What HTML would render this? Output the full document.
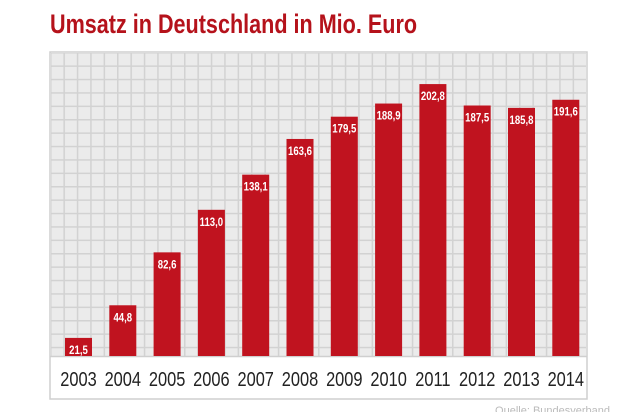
<!DOCTYPE html>
<html><head><meta charset="utf-8"><style>
html,body{margin:0;padding:0;background:#fff;width:630px;height:412px;overflow:hidden}
svg{display:block;font-family:"Liberation Sans",sans-serif}
</style></head><body>
<svg id="c" width="630" height="412">
<defs>
<pattern id="grid" x="50" y="52" width="13.4" height="13.4" patternUnits="userSpaceOnUse">
<rect width="13.4" height="13.4" fill="#ebebeb"/>
<path d="M0 0.75H13.4M0.75 0V13.4" stroke="#d2d2d2" stroke-width="1.5" fill="none"/>
</pattern>
</defs>
<text x="50" y="33" fill="#b5121b" font-size="27" font-weight="bold" transform="translate(50,0) scale(0.8,1) translate(-50,0)">Umsatz in Deutschland in Mio. Euro</text>
<rect x="50" y="52" width="537" height="347" fill="#fff" stroke="#cfcfcf" stroke-width="1.5"/>
<rect x="51" y="53" width="535" height="303" fill="url(#grid)"/>
<line x1="50" y1="356.5" x2="587" y2="356.5" stroke="#cfcfcf" stroke-width="1.5"/>
<g id="bars"></g>
<text x="610" y="414" fill="#bbb" font-size="11" text-anchor="end">Quelle: Bundesverband</text>
</svg>
<script>
const years = ["2003","2004","2005","2006","2007","2008","2009","2010","2011","2012","2013","2014"];
const values = [21.5,44.8,82.6,113.0,138.1,163.6,179.5,188.9,202.8,187.5,185.8,191.6];
const valueLabels = ["21,5","44,8","82,6","113,0","138,1","163,6","179,5","188,9","202,8","187,5","185,8","191,6"];

const NS = "http://www.w3.org/2000/svg";
const baseY = 356;
function yScale(v){ return baseY - Math.max(8, 1.40*v - 12); }
function xScale(i){ return 65 + i*44.3; }
const barW = 27;
const g = document.getElementById("bars");
years.forEach((yr,i)=>{
  const x = xScale(i), y = yScale(values[i]);
  const cx = x+barW/2;
  const r = document.createElementNS(NS,"rect");
  r.setAttribute("x",x); r.setAttribute("y",y);
  r.setAttribute("width",barW); r.setAttribute("height",baseY-y);
  r.setAttribute("fill","#c0131f");
  
  
  g.appendChild(r);
  const t = document.createElementNS(NS,"text");
  t.setAttribute("x",cx); t.setAttribute("y",y+16);
  t.setAttribute("text-anchor","middle"); t.setAttribute("fill","#fff");
  t.setAttribute("font-size","12"); t.setAttribute("font-weight","bold");
  t.setAttribute("transform","translate("+cx+",0) scale(0.8,1) translate("+(-cx)+",0)");
  t.textContent = valueLabels[i];
  
  
  g.appendChild(t);
  const yl = document.createElementNS(NS,"text");
  yl.setAttribute("x",cx); yl.setAttribute("y",386);
  yl.setAttribute("text-anchor","middle"); yl.setAttribute("fill","#222");
  yl.setAttribute("font-size","20");
  yl.setAttribute("transform","translate("+cx+",0) scale(0.82,1) translate("+(-cx)+",0)");
  yl.textContent = yr;
  
  
  g.appendChild(yl);
});
</script>
</body></html>
